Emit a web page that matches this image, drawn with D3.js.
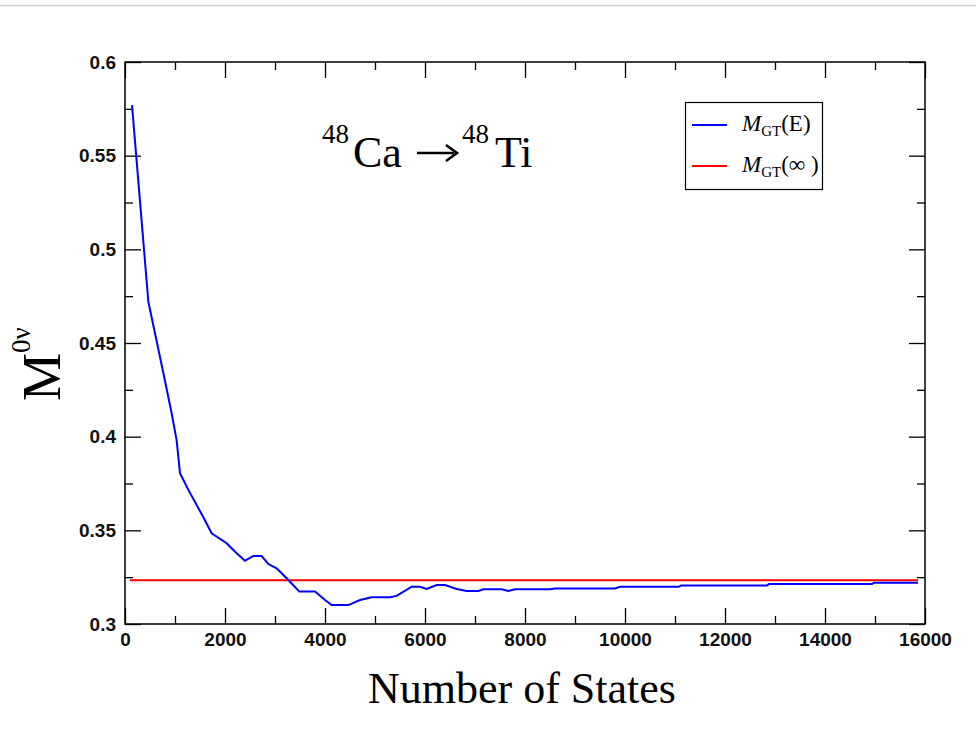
<!DOCTYPE html>
<html>
<head>
<meta charset="utf-8">
<script src="https://cdn.jsdelivr.net/npm/d3@7"></script>
<style>
  body { margin: 0; background: #fff; }
  svg { display: block; }
</style>
</head>
<body>
<div id="chart"></div>
<script>
// number of intermediate states vs. running GT matrix element
var states = [140, 467, 767, 933, 1033, 1100, 1267, 1567, 1733, 2033, 2233, 2400, 2567, 2733,
  2867, 3033, 3233, 3487, 3800, 4000, 4133, 4467, 4700, 4933, 5300, 5433, 5733, 5900, 6033,
  6233, 6400, 6633, 6833, 7067, 7167, 7533, 7667, 7800, 8500, 8600, 9800, 9900, 11080, 11120,
  12840, 12880, 14940, 14980, 15860];
var mgtE = [0.577, 0.472, 0.434, 0.4125, 0.398, 0.3805, 0.3716, 0.357, 0.3484, 0.3431, 0.3378,
  0.3338, 0.3363, 0.3363, 0.332, 0.3297, 0.3244, 0.3173, 0.3173, 0.3128, 0.3101, 0.3101, 0.3128,
  0.3143, 0.3143, 0.315, 0.3199, 0.3199, 0.3187, 0.3208, 0.3208, 0.3187, 0.3176, 0.3176, 0.3185,
  0.3185, 0.3176, 0.3185, 0.3185, 0.319, 0.319, 0.3199, 0.3199, 0.3206, 0.3206, 0.3213, 0.3213,
  0.322, 0.322];
var mgtInf = 0.3233;
var infRange = [100, 15860];

var xTicks = [0, 2000, 4000, 6000, 8000, 10000, 12000, 14000, 16000];
var xMinor = [1000, 3000, 5000, 7000, 9000, 11000, 13000, 15000];
var yTicks = [0.3, 0.35, 0.4, 0.45, 0.5, 0.55, 0.6];
var yMinor = [0.325, 0.375, 0.425, 0.475, 0.525, 0.575];

var svgWidth = 976;
var svgHeight = 738;
var margin = { top: 62, right: 51, bottom: 114, left: 125 };
var width = svgWidth - margin.left - margin.right;
var height = svgHeight - margin.top - margin.bottom;

var svg = d3.select("#chart").append("svg")
  .attr("width", svgWidth)
  .attr("height", svgHeight);

// thin grey rule at the top of the page
svg.append("line")
  .attr("x1", 0).attr("x2", svgWidth)
  .attr("y1", 5.5).attr("y2", 5.5)
  .attr("stroke", "#cfcfcf").attr("stroke-width", 1.5);

var g = svg.append("g")
  .attr("transform", `translate(${margin.left}, ${margin.top})`);

var x = d3.scaleLinear().domain([0, 16000]).range([0, width]);
var y = d3.scaleLinear().domain([0.3, 0.6]).range([height, 0]);

function styleAxis(sel, labels) {
  sel.select(".domain").remove();
  sel.selectAll(".tick line").attr("stroke", "#000").attr("stroke-width", 1.3);
  sel.selectAll(".tick text")
    .style("font-family", "'Liberation Sans', Arial, sans-serif")
    .style("font-size", "19px")
    .style("font-weight", "bold")
    .attr("fill", "#111");
  if (!labels) sel.selectAll(".tick text").remove();
}

// bottom
g.append("g").attr("transform", `translate(0, ${height})`)
  .call(d3.axisBottom(x).tickValues(xTicks).tickSize(-16).tickPadding(9).tickFormat(d3.format("d")))
  .call(styleAxis, true);
g.append("g").attr("transform", `translate(0, ${height})`)
  .call(d3.axisBottom(x).tickValues(xMinor).tickSize(-8))
  .call(styleAxis, false);
// top
g.append("g")
  .call(d3.axisTop(x).tickValues(xTicks).tickSize(-16))
  .call(styleAxis, false);
g.append("g")
  .call(d3.axisTop(x).tickValues(xMinor).tickSize(-8))
  .call(styleAxis, false);
// left
g.append("g")
  .call(d3.axisLeft(y).tickValues(yTicks).tickSize(-16).tickPadding(9).tickFormat(d => String(+d.toFixed(2))))
  .call(styleAxis, true);
g.append("g")
  .call(d3.axisLeft(y).tickValues(yMinor).tickSize(-8))
  .call(styleAxis, false);
// right
g.append("g").attr("transform", `translate(${width}, 0)`)
  .call(d3.axisRight(y).tickValues(yTicks).tickSize(-16))
  .call(styleAxis, false);
g.append("g").attr("transform", `translate(${width}, 0)`)
  .call(d3.axisRight(y).tickValues(yMinor).tickSize(-8))
  .call(styleAxis, false);

// frame
g.append("rect")
  .attr("width", width).attr("height", height)
  .attr("fill", "none").attr("stroke", "#000").attr("stroke-width", 1.5);

// asymptotic value
g.append("line")
  .attr("x1", x(infRange[0])).attr("x2", x(infRange[1]))
  .attr("y1", y(mgtInf)).attr("y2", y(mgtInf))
  .attr("stroke", "#ff0000").attr("stroke-width", 2);

// running sum
var line = d3.line().x(d => x(d[0])).y(d => y(d[1]));
g.append("path")
  .datum(d3.zip(states, mgtE))
  .attr("d", line)
  .attr("fill", "none")
  .attr("stroke", "#0000ff")
  .attr("stroke-width", 2);

// title
var serif = "'Liberation Serif', 'Times New Roman', serif";
function titlePart(xx, yy, size, txt) {
  svg.append("text")
    .attr("x", xx).attr("y", yy)
    .style("font-family", serif)
    .style("font-size", size + "px")
    .attr("fill", "#000")
    .text(txt);
}
titlePart(322, 143, 27, "48");
titlePart(353, 167, 44, "Ca");
titlePart(495, 167, 44, "Ti");
titlePart(462, 143, 27, "48");
// arrow
svg.append("line")
  .attr("x1", 417).attr("x2", 454)
  .attr("y1", 153).attr("y2", 153)
  .attr("stroke", "#000").attr("stroke-width", 2.6);
svg.append("path")
  .attr("d", "M446,145 L457,153 L446,161")
  .attr("fill", "none").attr("stroke", "#000").attr("stroke-width", 2.6);

// legend
var legend = svg.append("g");
legend.append("rect")
  .attr("x", 685.5).attr("y", 102.5).attr("width", 137).attr("height", 87)
  .attr("fill", "#fff").attr("stroke", "#000").attr("stroke-width", 1.2);
var legendItems = [
  { arg: "(E)", color: "#0000ff", yy: 125 },
  { arg: "(\u221E )", color: "#ff0000", yy: 166 }
];
legendItems.forEach(function (it) {
  legend.append("line")
    .attr("x1", 692).attr("x2", 727)
    .attr("y1", it.yy).attr("y2", it.yy)
    .attr("stroke", it.color).attr("stroke-width", 2);
  var t = legend.append("text")
    .attr("x", 742).attr("y", it.yy + 6)
    .style("font-family", serif)
    .attr("fill", "#000");
  t.append("tspan").attr("font-size", 23).attr("font-style", "italic").text("M");
  t.append("tspan").attr("font-size", 15).attr("dy", 5).text("GT");
  t.append("tspan").attr("font-size", 23).attr("dy", -5).text(it.arg);
});

// axis titles
svg.append("text")
  .attr("x", 522).attr("y", 703)
  .attr("text-anchor", "middle")
  .style("font-family", serif)
  .style("font-size", "44px")
  .text("Number of States");

var ylab = svg.append("text")
  .attr("transform", "translate(60, 401) rotate(-90)")
  .style("font-family", serif);
ylab.append("tspan").attr("font-size", 54).text("M");
ylab.append("tspan").attr("font-size", 27).attr("dy", -30).text("0\u03BD");
</script>
</body>
</html>
